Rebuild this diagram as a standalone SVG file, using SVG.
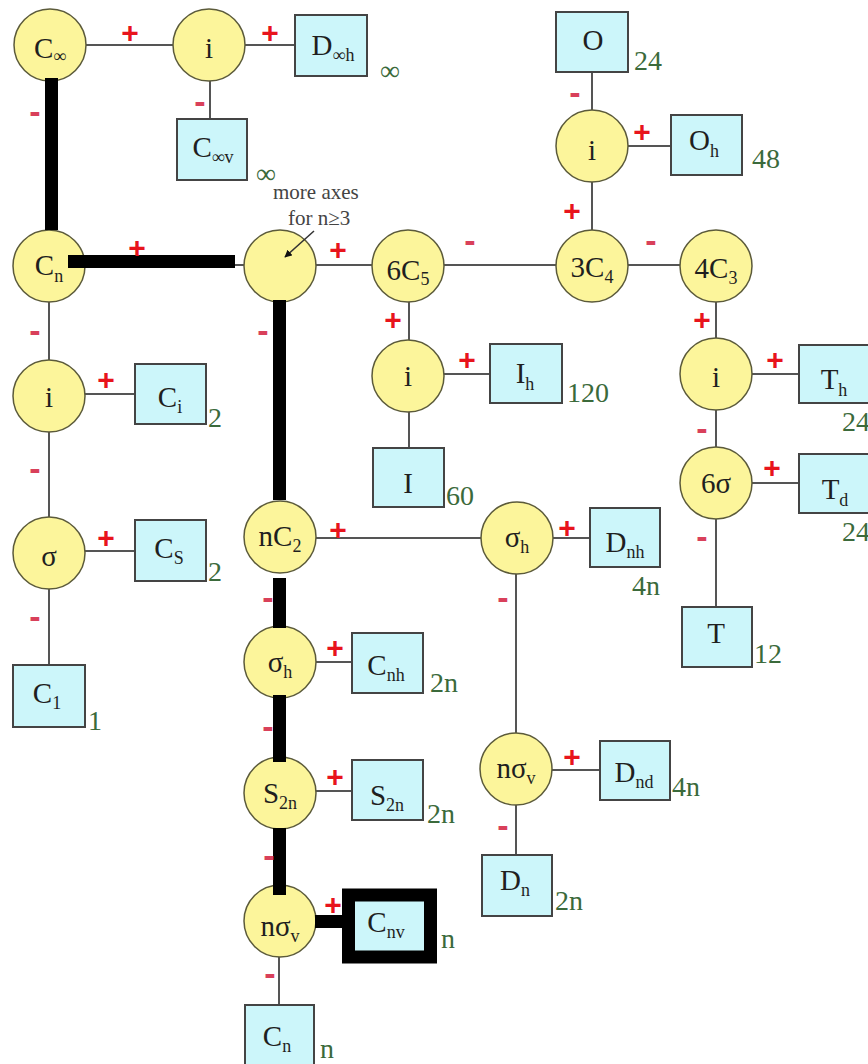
<svg xmlns="http://www.w3.org/2000/svg" width="868" height="1064" viewBox="0 0 868 1064">
<defs>
<style>
.c{fill:#FCF59B;stroke:#5b5a3a;stroke-width:1.5}
.b{fill:#CCF6FA;stroke:#444;stroke-width:2}
.t{font-family:"Liberation Serif",serif;font-size:29px;fill:#1f1f1f;text-anchor:middle}
.s{font-size:18px}
.num{font-family:"Liberation Serif",serif;font-size:28px;fill:#3b6a3b}
.ln{stroke:#555;stroke-width:2;fill:none}
.hl{stroke:#000;stroke-width:13;fill:none}
.p{font-family:"Liberation Sans",sans-serif;font-weight:bold;font-size:30px;fill:#e8141c;text-anchor:middle}
.m{font-family:"Liberation Sans",sans-serif;font-weight:bold;font-size:34px;fill:#d9405a;text-anchor:middle}
.note{font-family:"Liberation Serif",serif;font-size:21px;fill:#444}
</style>
<marker id="ah" viewBox="0 0 10 10" refX="9" refY="5" markerWidth="5" markerHeight="5" orient="auto"><path d="M0,0 L10,5 L0,10 z" fill="#111"/></marker>
</defs>
<rect width="868" height="1064" fill="#fff"/>

<g id="connectors">
<path class="ln" d="M86,45H173 M245,45H295 M210,81V119 M85,265H244 M316,265H372 M444,265H556 M628,265H680 M592,182V230 M592,72V110 M628,146H671 M409,302V340 M444,374H490 M409,412V448 M716,302V338 M752,374H799 M716,410V447 M752,483H799 M716,519V607 M49,302V360 M85,394H135 M49,432V517 M85,551H135 M49,589V665 M316,538H482 M553,538H590 M516,574V733 M552,770H600 M516,805V855 M316,662H352 M316,791H352 M279,957V1005"/>
</g>

<g id="n-cinf"><circle class="c" cx="50" cy="45" r="36"/><text class="t" x="50" y="58">C<tspan class="s" dy="4">∞</tspan></text></g>
<g id="n-i1"><circle class="c" cx="209" cy="45" r="36"/><text class="t" x="209" y="58">i</text></g>
<g id="n-dinfh"><rect class="b" x="295" y="15" width="72" height="61"/><text class="t" x="333" y="55">D<tspan class="s" dy="6">∞h</tspan></text></g>
<g id="n-cinfv"><rect class="b" x="177" y="119" width="70" height="61"/><text class="t" x="213" y="157">C<tspan class="s" dy="6">∞v</tspan></text></g>

<g id="n-cn"><circle class="c" cx="49" cy="266" r="36"/><text class="t" x="49" y="275">C<tspan class="s" dy="7">n</tspan></text></g>
<g id="n-blank"><circle class="c" cx="280" cy="266" r="36"/></g>
<g id="n-6c5"><circle class="c" cx="408" cy="266" r="36"/><text class="t" x="408" y="280">6C<tspan class="s" dy="5">5</tspan></text></g>
<g id="n-3c4"><circle class="c" cx="592" cy="266" r="36"/><text class="t" x="592" y="277">3C<tspan class="s" dy="6">4</tspan></text></g>
<g id="n-4c3"><circle class="c" cx="716" cy="266" r="36"/><text class="t" x="716" y="278">4C<tspan class="s" dy="6">3</tspan></text></g>

<g id="n-o"><rect class="b" x="556" y="12" width="72" height="60"/><text class="t" x="593" y="50">O</text></g>
<g id="n-io"><circle class="c" cx="592" cy="146" r="36"/><text class="t" x="592" y="160">i</text></g>
<g id="n-oh"><rect class="b" x="671" y="115" width="71" height="60"/><text class="t" x="704" y="150">O<tspan class="s" dy="7">h</tspan></text></g>

<g id="n-i2"><circle class="c" cx="49" cy="396" r="36"/><text class="t" x="49" y="407">i</text></g>
<g id="n-ci"><rect class="b" x="135" y="364" width="71" height="60"/><text class="t" x="170" y="407">C<tspan class="s" dy="6">i</tspan></text></g>
<g id="n-sigma"><circle class="c" cx="49" cy="553" r="36"/><text class="t" x="49" y="566">σ</text></g>
<g id="n-cs"><rect class="b" x="135" y="520" width="71" height="61"/><text class="t" x="169" y="558">C<tspan class="s" dy="6">S</tspan></text></g>
<g id="n-c1"><rect class="b" x="13" y="665" width="72" height="62"/><text class="t" x="47" y="703">C<tspan class="s" dy="6">1</tspan></text></g>

<g id="n-ii"><circle class="c" cx="408" cy="376" r="36"/><text class="t" x="408" y="386">i</text></g>
<g id="n-ih"><rect class="b" x="490" y="344" width="72" height="59"/><text class="t" x="525" y="383">I<tspan class="s" dy="7">h</tspan></text></g>
<g id="n-I"><rect class="b" x="373" y="448" width="71" height="59"/><text class="t" x="408" y="493">I</text></g>

<g id="n-it"><circle class="c" cx="716" cy="374" r="36"/><text class="t" x="716" y="387">i</text></g>
<g id="n-th"><rect class="b" x="799" y="345" width="72" height="58"/><text class="t" x="834" y="389">T<tspan class="s" dy="7">h</tspan></text></g>
<g id="n-6s"><circle class="c" cx="716" cy="483" r="36"/><text class="t" x="716" y="493">6σ</text></g>
<g id="n-td"><rect class="b" x="799" y="454" width="72" height="59"/><text class="t" x="835" y="499">T<tspan class="s" dy="7">d</tspan></text></g>
<g id="n-t"><rect class="b" x="682" y="607" width="70" height="60"/><text class="t" x="716" y="643">T</text></g>

<g id="n-nc2"><circle class="c" cx="280" cy="537" r="36"/><text class="t" x="280" y="546">nC<tspan class="s" dy="6">2</tspan></text></g>
<g id="n-sh2"><circle class="c" cx="517" cy="538" r="36"/><text class="t" x="517" y="547">σ<tspan class="s" dy="6">h</tspan></text></g>
<g id="n-dnh"><rect class="b" x="590" y="508" width="70" height="59"/><text class="t" x="625" y="552">D<tspan class="s" dy="6">nh</tspan></text></g>
<g id="n-sh1"><circle class="c" cx="280" cy="662" r="36"/><text class="t" x="280" y="672">σ<tspan class="s" dy="6">h</tspan></text></g>
<g id="n-cnh"><rect class="b" x="352" y="633" width="71" height="60"/><text class="t" x="386" y="675">C<tspan class="s" dy="6">nh</tspan></text></g>
<g id="n-s2n"><circle class="c" cx="280" cy="793" r="36"/><text class="t" x="280" y="803">S<tspan class="s" dy="6">2n</tspan></text></g>
<g id="n-s2nb"><rect class="b" x="352" y="760" width="71" height="60"/><text class="t" x="387" y="805">S<tspan class="s" dy="6">2n</tspan></text></g>
<g id="n-nsv2"><circle class="c" cx="516" cy="769" r="36"/><text class="t" x="516" y="778">nσ<tspan class="s" dy="6">v</tspan></text></g>
<g id="n-dnd"><rect class="b" x="600" y="741" width="70" height="59"/><text class="t" x="634" y="782">D<tspan class="s" dy="6">nd</tspan></text></g>
<g id="n-dn"><rect class="b" x="482" y="855" width="70" height="61"/><text class="t" x="515" y="890">D<tspan class="s" dy="6">n</tspan></text></g>
<g id="n-nsv1"><circle class="c" cx="280" cy="921" r="36"/><text class="t" x="280" y="936">nσ<tspan class="s" dy="6">v</tspan></text></g>
<g id="n-cnv"><rect x="348.5" y="895" width="82" height="62" fill="#CCF6FA" stroke="#000" stroke-width="13"/><text class="t" x="386" y="932">C<tspan class="s" dy="6">nv</tspan></text></g>
<g id="n-cnb"><rect class="b" x="245" y="1005" width="69" height="62"/><text class="t" x="277" y="1046">C<tspan class="s" dy="6">n</tspan></text></g>

<g id="highlight">
<path class="hl" d="M51.5,78V230 M68,261.5H235 M279.5,300V500 M279.5,578V628 M279.5,695V762 M279.5,828V895 M315,921.5H342"/>
</g>

<g id="annotation">
<line x1="314" y1="231" x2="285" y2="257" stroke="#333" stroke-width="1.5" marker-end="url(#ah)"/>
<text class="note" x="273" y="199">more axes</text>
<text class="note" x="288" y="225">for n≥3</text>
</g>

<g id="labels">
<text class="num" x="380" y="80" font-size="24">∞</text>
<text class="num" x="256" y="183" font-size="24">∞</text>
<text class="num" x="634" y="70">24</text>
<text class="num" x="752" y="168">48</text>
<text class="num" x="208" y="427">2</text>
<text class="num" x="208" y="581">2</text>
<text class="num" x="88" y="730">1</text>
<text class="num" x="567" y="402">120</text>
<text class="num" x="446" y="505">60</text>
<text class="num" x="842" y="431">24</text>
<text class="num" x="842" y="541">24</text>
<text class="num" x="632" y="595">4n</text>
<text class="num" x="754" y="663">12</text>
<text class="num" x="430" y="692">2n</text>
<text class="num" x="427" y="823">2n</text>
<text class="num" x="672" y="796">4n</text>
<text class="num" x="555" y="910">2n</text>
<text class="num" x="441" y="948">n</text>
<text class="num" x="320" y="1058">n</text>
</g>

<g id="signs">
<text class="p" x="130" y="43">+</text>
<text class="p" x="270" y="43">+</text>
<text class="p" x="137" y="258">+</text>
<text class="p" x="338" y="260">+</text>
<text class="p" x="642" y="142">+</text>
<text class="p" x="572" y="221">+</text>
<text class="p" x="393" y="330">+</text>
<text class="p" x="467" y="370">+</text>
<text class="p" x="702" y="330">+</text>
<text class="p" x="775" y="370">+</text>
<text class="p" x="772" y="478">+</text>
<text class="p" x="106" y="390">+</text>
<text class="p" x="106" y="548">+</text>
<text class="p" x="338" y="540">+</text>
<text class="p" x="567" y="538">+</text>
<text class="p" x="335" y="658">+</text>
<text class="p" x="335" y="787">+</text>
<text class="p" x="572" y="767">+</text>
<text class="p" x="333" y="915">+</text>
<text class="m" x="35" y="123">-</text>
<text class="m" x="200" y="113">-</text>
<text class="m" x="575" y="104">-</text>
<text class="m" x="470" y="252">-</text>
<text class="m" x="651" y="252">-</text>
<text class="m" x="35" y="342">-</text>
<text class="m" x="35" y="480">-</text>
<text class="m" x="35" y="628">-</text>
<text class="m" x="263" y="342">-</text>
<text class="m" x="702" y="440">-</text>
<text class="m" x="702" y="548">-</text>
<text class="m" x="268" y="609">-</text>
<text class="m" x="503" y="609">-</text>
<text class="m" x="268" y="738">-</text>
<text class="m" x="269" y="867">-</text>
<text class="m" x="503" y="837">-</text>
<text class="m" x="270" y="985">-</text>
</g>
</svg>
